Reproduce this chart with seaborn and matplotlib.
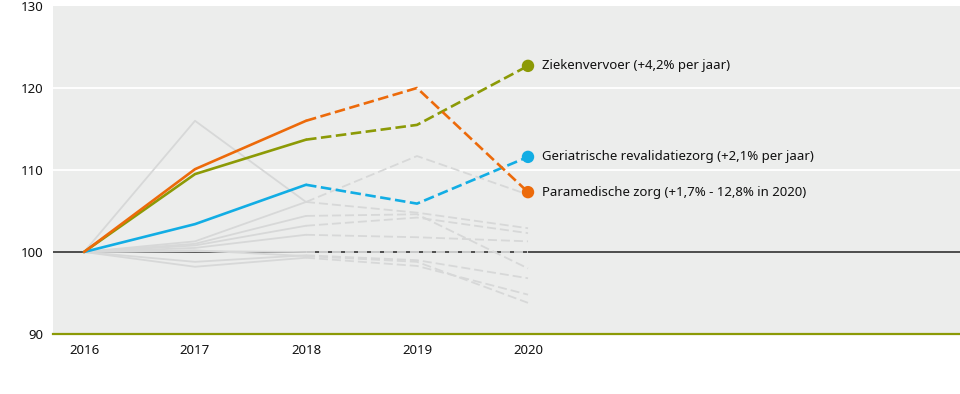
import matplotlib
matplotlib.use("Agg")
import matplotlib.pyplot as plt
import seaborn as sns
import pandas as pd

years = [2016, 2017, 2018, 2019, 2020]

# highlighted series (index, 2016 = 100)
ziekenvervoer = [100, 109.5, 113.7, 115.5, 122.7]
geriatrische = [100, 103.4, 108.2, 105.9, 111.6]
paramedische = [100, 110.1, 116.0, 120.0, 107.3]

labels = [
    "Ziekenvervoer (+4,2% per jaar)",
    "Geriatrische revalidatiezorg (+2,1% per jaar)",
    "Paramedische zorg (+1,7% - 12,8% in 2020)",
]

# other (grey) series
grey_series = [
    [100, 116.0, 106.1, 104.8, 102.9],
    [100, 101.3, 106.1, 111.7, 107.0],
    [100, 101.0, 104.4, 104.6, 98.0],
    [100, 100.8, 103.2, 104.2, 102.3],
    [100, 100.5, 102.1, 101.8, 101.3],
    [100, 100.1, 100.0, 100.0, 100.0],
    [100, 98.8, 99.6, 99.0, 96.8],
    [100, 98.2, 99.3, 98.3, 94.8],
    [100, 100.2, 99.5, 98.8, 93.8],
]

y_ticks = [90, 100, 110, 120, 130]

colors = ["#8c9a06", "#12ade4", "#ec6a0a"]
grey = "#d7d8d8"
bg = "#ecedec"

sns.set_theme(style="white")
plt.rcParams["font.family"] = ["Noto Sans", "DejaVu Sans"]

fig = plt.figure(figsize=(9.6, 3.94), dpi=100)
ax = fig.add_axes([53 / 960, 1 - 334 / 394, 1 - 53 / 960, 328 / 394])
ax.set_facecolor(bg)

for yv in [110, 120]:
    ax.axhline(yv, color="white", lw=1.3, zorder=1)
ax.axhline(100, color="#222222", lw=1.1, zorder=2)

solid = slice(0, 3)
dashed = slice(2, 5)

for s in grey_series:
    sns.lineplot(x=years[solid], y=s[solid], ax=ax, color=grey, lw=1.3, zorder=3)
    sns.lineplot(x=years[dashed], y=s[dashed], ax=ax, color=grey, lw=1.3,
                 linestyle=(0, (5, 2.2)), zorder=3)

for s, c, lab in zip([ziekenvervoer, geriatrische, paramedische], colors, labels):
    sns.lineplot(x=years[solid], y=s[solid], ax=ax, color=c, lw=1.9, zorder=5)
    sns.lineplot(x=years[dashed], y=s[dashed], ax=ax, color=c, lw=1.9,
                 linestyle=(0, (4, 1.7)), zorder=5)
    sns.scatterplot(x=[years[-1]], y=[s[-1]], ax=ax, color=c, s=80,
                    edgecolor="none", zorder=6)
    ax.annotate(lab, xy=(years[-1], s[-1]), xytext=(10, 0),
                textcoords="offset points", va="center", ha="left",
                fontsize=9.5, color="#111111")

x0 = 2016 - 31 / 111
x1 = 2016 + (960 - 84) / 111
ax.set_xlim(x0, x1)
ax.set_ylim(90, 130)
ax.set_xticks(years)
ax.set_xticklabels([str(y) for y in years])
ax.set_yticks(y_ticks)
ax.set_yticklabels([str(y) for y in y_ticks])
ax.tick_params(axis="both", length=0, labelsize=9.5, colors="#111111")
ax.tick_params(axis="x", pad=7)
ax.tick_params(axis="y", pad=7)
ax.set_xlabel("")
ax.set_ylabel("")
for side in ["top", "right", "left"]:
    ax.spines[side].set_visible(False)
ax.spines["bottom"].set_color("#8c9a06")
ax.spines["bottom"].set_linewidth(1.6)
if ax.get_legend():
    ax.get_legend().remove()

fig.savefig("out.png", dpi=100, facecolor="white")
